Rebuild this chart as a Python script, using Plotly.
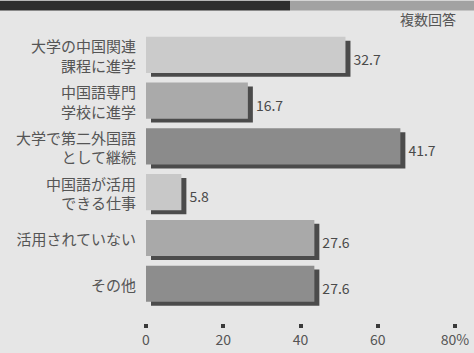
import plotly.graph_objects as go

categories = ["大学の中国関連<br>課程に進学", "中国語専門<br>学校に進学", "大学で第二外国語<br>として継続",
              "中国語が活用<br>できる仕事", "活用されていない", "その他"]
values = [32.7, 16.7, 41.7, 5.8, 27.6, 27.6]
bar_colors = ["#cbcbcb", "#aaaaaa", "#8b8b8b", "#c8c8c8", "#a9a9a9", "#8d8d8d"]
scale_ticks = [0, 20, 40, 60, 80]
scale_labels = ["0", "20", "40", "60", "80%"]
note = "複数回答"

W, H = 474, 353
ML, MR, MT, MB = 146, 4, 34, 6
plot_w = W - ML - MR
plot_h = H - MT - MB
bars_bottom_px = 315
scale_axis_px = 330
px_per_unit_bar = 6.1
px_per_unit_scale = 3.8625
shadow_shift = 5 / px_per_unit_bar


def py(p):
    return (H - MB - p) / plot_h


def px(p):
    return (p - ML) / plot_w


FONT = "Noto Sans CJK JP"

fig = go.Figure()
fig.add_trace(go.Bar(
    y=categories, x=values, base=[shadow_shift] * len(values), orientation="h",
    marker=dict(color="#4b4b4b", line=dict(width=0)),
    width=0.79, offset=-0.355,
    text=[f"{v:.1f}" for v in values], textposition="outside",
    textfont=dict(family=FONT, size=14, color="#4a4a4a"),
    cliponaxis=False, hoverinfo="skip", showlegend=False,
))
fig.add_trace(go.Bar(
    y=categories, x=values, orientation="h",
    marker=dict(color=bar_colors, line=dict(width=0)),
    width=0.79, offset=-0.44, showlegend=False,
))
fig.add_trace(go.Scatter(
    x=scale_ticks, y=[categories[0]] * len(scale_ticks), xaxis="x2",
    mode="none", hoverinfo="skip", showlegend=False,
))

fig.update_layout(
    width=W, height=H,
    margin=dict(l=ML, r=MR, t=MT, b=MB),
    barmode="overlay",
    paper_bgcolor="#e6e6e6", plot_bgcolor="#e6e6e6",
    font=dict(family=FONT, color="#505050"),
    xaxis=dict(range=[0, plot_w / px_per_unit_bar], visible=False, fixedrange=True),
    xaxis2=dict(
        range=[0, plot_w / px_per_unit_scale], overlaying="x", side="bottom",
        anchor="free", position=py(scale_axis_px),
        tickvals=scale_ticks, ticktext=scale_labels,
        tickfont=dict(family=FONT, size=14, color="#555555"),
        showgrid=False, zeroline=False, showline=False,
        ticks="outside", ticklen=4, tickwidth=4, tickcolor="#3a3a3a",
        ticklabelstandoff=0,
    ),
    yaxis=dict(
        domain=[py(bars_bottom_px), 1],
        categoryorder="array", categoryarray=categories, autorange="reversed",
        tickfont=dict(family=FONT, size=15, color="#555555"),
        showgrid=False, zeroline=False, showline=False, ticks="",
        ticklabelstandoff=9,
    ),
    shapes=[
        dict(type="rect", xref="paper", yref="paper", x0=px(0), x1=px(290),
             y0=py(10), y1=py(0), fillcolor="#2e2e2e", line=dict(width=0), layer="below"),
        dict(type="rect", xref="paper", yref="paper", x0=px(290), x1=px(W),
             y0=py(10), y1=py(0), fillcolor="#a2a2a2", line=dict(width=0), layer="below"),
    ],
    annotations=[dict(
        text=note, xref="paper", yref="paper", x=1, y=1, xanchor="right", yanchor="bottom",
        xshift=-12, yshift=3, showarrow=False,
        font=dict(family=FONT, size=14, color="#555555"),
    )],
)

fig.write_html("out.html")
